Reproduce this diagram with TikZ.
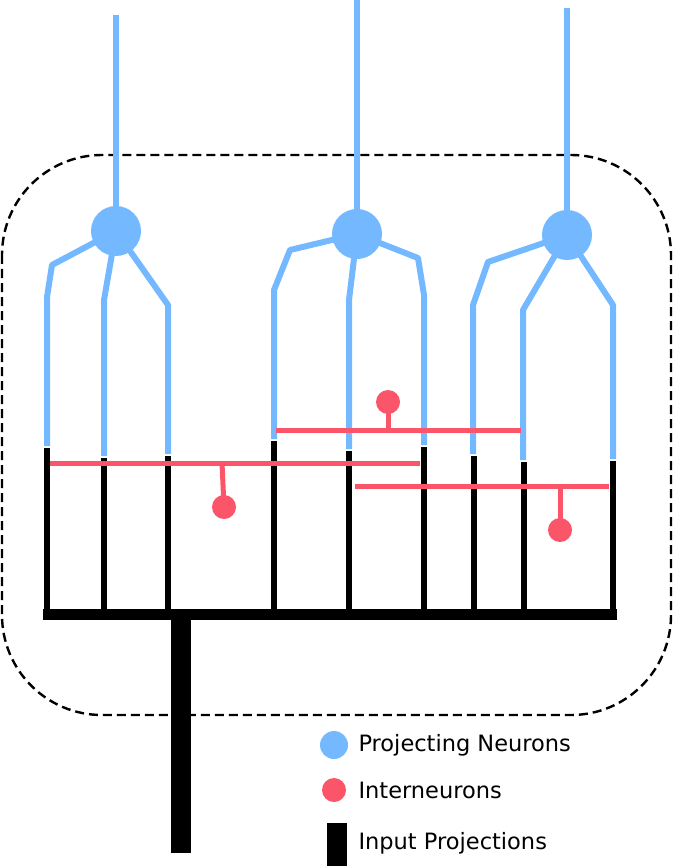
\documentclass[tikz,border=0pt]{standalone}
\usepackage{fontspec}
\setmainfont{DejaVu Sans}
\definecolor{pblue}{RGB}{116,185,255}
\definecolor{ired}{RGB}{250,85,105}
\begin{document}
\begin{tikzpicture}[x=1pt,y=-1pt,
  dend/.style={pblue,line width=6pt,line join=round},
  inl/.style={black,line width=6pt},
  intl/.style={ired,line width=5pt},
  soma/.style={circle,fill=pblue,minimum size=50pt,inner sep=0pt},
  inter/.style={circle,fill=ired,minimum size=24pt,inner sep=0pt},
  lab/.style={anchor=west,font=\fontsize{22.5pt}{26pt}\selectfont}]
\useasboundingbox (0,0) rectangle (673,866);
\draw[line width=2.4pt,dash pattern=on 9pt off 5pt,rounded corners=100pt] (2,155) rectangle (671,715);
% black input lines
\foreach \x/\y in {47/448,104/458,168/456,274/441,349/451,424/447,474/456,524/462,613/461}
  \draw[inl] (\x,\y) -- (\x,614);
\draw[black,line width=11pt] (43,614) -- (617,614);
\draw[black,line width=20pt] (181,610) -- (181,853);
% neurons
\node[soma] (s1) at (116,231) {};
\node[soma] (s2) at (357,234) {};
\node[soma] (s3) at (567,235) {};
\draw[dend] (s1.center) -- (116,15);
\draw[dend] (s2.center) -- (357,0);
\draw[dend] (s3.center) -- (567,8);
\draw[dend] (s1.center) -- (52,265) -- (47,297) -- (47,446);
\draw[dend] (s1.center) -- (104,300) -- (104,456);
\draw[dend] (s1.center) -- (168,305) -- (168,454);
\draw[dend] (s2.center) -- (290,250) -- (274,290) -- (274,439);
\draw[dend] (s2.center) -- (349,300) -- (349,449);
\draw[dend] (s2.center) -- (418,258) -- (424,295) -- (424,445);
\draw[dend] (s3.center) -- (488,262) -- (473,305) -- (473,454);
\draw[dend] (s3.center) -- (523,310) -- (523,460);
\draw[dend] (s3.center) -- (613,305) -- (613,459);
% interneurons
\node[inter] (i1) at (224,507) {};
\node[inter] (i2) at (388,402) {};
\node[inter] (i3) at (560,530) {};
\draw[intl] (50,463) -- (420,463);
\draw[intl] (i1.center) -- (222,463);
\draw[intl] (276,430) -- (521,430);
\draw[intl] (i2.center) -- (388,430);
\draw[intl] (355,486) -- (609,486);
\draw[intl] (i3.center) -- (560,486);
% legend
\node[circle,fill=pblue,minimum size=28pt,inner sep=0pt] (lb) at (334,745) {};
\node[lab] (t1) at (355,745) {Projecting Neurons};
\node[circle,fill=ired,minimum size=24pt,inner sep=0pt] (lr) at (334,790) {};
\node[lab] (t2) at (355,790) {Interneurons};
\fill (327,823) rectangle (347,866);
\node[lab] (t3) at (355,843) {Input Projections};
\end{tikzpicture}
\end{document}
